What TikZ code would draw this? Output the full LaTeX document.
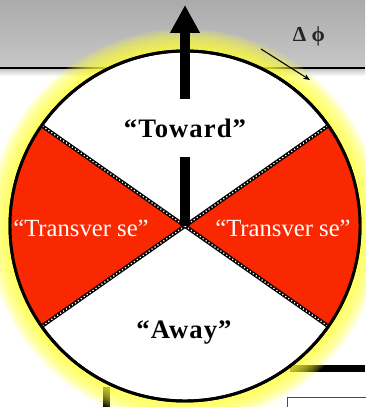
\documentclass[tikz,border=0pt]{standalone}
\usepackage{fontspec}
\setmainfont{Liberation Serif}
\newfontfamily\labelfont[LetterSpace=4]{Liberation Serif}
\usetikzlibrary{arrows.meta, calc, positioning}

\definecolor{wedgered}{RGB}{250,40,0}
\definecolor{glowyellow}{RGB}{255,255,60}

\begin{document}
\begin{tikzpicture}[
    x=0.75pt, y=0.75pt,
    font=\normalsize,
    wheel/.style={
        circle, draw=black, line width=2.2pt, fill=white,
        minimum size=262.5pt, inner sep=0pt, outer sep=0pt
    },
    wedge/.style={fill=wedgered},
    border/.style={
        black, line width=2.8pt,
        postaction={draw=white, line width=1.0pt, dash pattern=on 0.9pt off 1.8pt}
    },
    shaft/.style={black, line width=7.5pt},
    label/.style={
        align=center, text=black, inner sep=0pt,
        font=\labelfont\fontsize{20}{22}\selectfont\bfseries
    },
    side/.style={
        align=center, text=white, inner sep=0pt,
        font=\fontsize{18.5}{20}\selectfont
    }
]
\useasboundingbox (0,0) rectangle (365,407);

% slide background
\shade[top color=black!33, bottom color=black!22] (0,339) rectangle (365,407);
\shade[top color=black!25, bottom color=white] (0,331) rectangle (365,339);
\draw[black, line width=1.2pt] (0,339) -- (365,339);
\fill[black] (290,35) rectangle (365,42);
\fill[black] (103,0) rectangle (110,20);
\draw[black!70, line width=0.6pt] (287,-2) rectangle (370,10);

\coordinate (o) at (185,181);

% glow
\foreach \i in {16,...,1}
    \fill[glowyellow, opacity=0.1] (o) circle[radius=175+\i*1.4];

\node[wheel] (dial) at (o) {};

\fill[wedge] (dial.center) -- (dial.145) arc[start angle=145, end angle=215, radius=175] -- cycle;
\fill[wedge] (dial.center) -- (dial.-35) arc[start angle=-35, end angle=35, radius=175] -- cycle;

\draw[border] (dial.center) -- (dial.35);
\draw[border] (dial.center) -- (dial.145);
\draw[border] (dial.center) -- (dial.215);
\draw[border] (dial.center) -- (dial.-35);

\draw[black, line width=2.2pt] (dial.center) circle[radius=175];

\node[label, minimum height=42.75pt] (toward) at (185,279) {“Toward”};
\coordinate (tip) at (185,402);
\draw[shaft] (dial.center) -- (toward);
\draw[shaft, -{Triangle[length=21pt, width=21pt]}] (toward) -- (tip);

\node[label] (away) at (184,74) {“Away”};
\node[side] (left) at (81,179) {“Transver se”};
\node[side] (right) at (283,179) {“Transver se”};

\node[font=\fontsize{16}{18}\selectfont\bfseries, text=black!85] (dphi) at (309,371) {Δ ϕ};
\coordinate (d1) at (261,358);
\coordinate (d2) at (310,327);
\draw[black, line width=0.8pt, -{Stealth[length=5pt, width=4pt]}] (d1) -- (d2);
\end{tikzpicture}
\end{document}
